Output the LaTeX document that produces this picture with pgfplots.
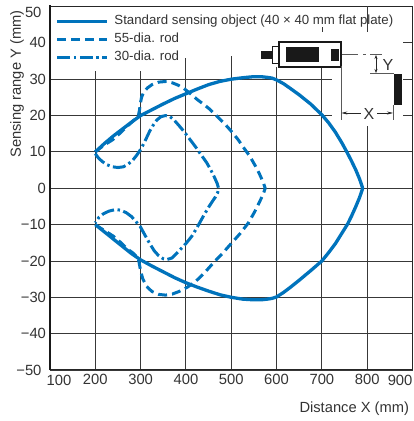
\documentclass[border=0pt]{standalone}
\usepackage{pgfplots}
\pgfplotsset{compat=1.18}
\usepackage{fontspec}
\setmainfont{Liberation Sans}
\usetikzlibrary{arrows.meta}
\definecolor{cblue}{HTML}{0073BC}
\definecolor{ctxt}{HTML}{333333}
\newcommand\px[2]{(axis cs:{100+(#1-50)/45.3*100},{(188.7-#2)/3.63})}
\newcommand\tfont{\fontsize{14.8}{14.8}\selectfont}
\begin{document}
\begin{tikzpicture}[x=1pt,y=1pt]
\path[use as bounding box] (0,0) rectangle (413,421);
\begin{axis}[
  at={(50pt,51pt)}, anchor=south west,
  scale only axis, width=362.5pt, height=363.5pt,
  xmin=100, xmax=900, ymin=-50, ymax=50,
  xtick={100,200,...,900}, ytick={-50,-40,...,50},
  xticklabels={,200,300,400,500,600,700,800,},
  yticklabels={,−40,−30,−20,−10,0,10,20,30,40,},
  tick style={draw=none},
  grid=major,
  grid style={draw=black!78,line width=0.9pt},
  axis line style={draw=black!85,line width=1pt},
  tick label style={font=\tfont,text=ctxt},
  xticklabel style={yshift=-0.5pt},
  yticklabel style={xshift=-0.5pt},
  clip=false,
  legend style={at={(axis cs:112.5,47.7)},anchor=north west,draw=none,fill=none,
    inner sep=0pt,outer sep=0pt,
    nodes={inner sep=0pt,text height=10pt,text depth=3pt,font=\fontsize{13.25}{13.25}\selectfont,text=ctxt},
    row sep=5pt,cells={anchor=west},/tikz/column 1/.style={column sep=5.5pt}},
  legend image code/.code={\draw[#1] (0pt,0pt)--(50pt,0pt);},
]
% white areas where the reference has no grid
\fill[white] \px{51}{7.4} rectangle \px{150}{72};
\fill[white] \px{150}{7.4} rectangle \px{200}{59};
\fill[white] \px{200}{7.4} rectangle \px{250}{57};
\fill[white] \px{250}{7.4} rectangle \px{403}{68};
\fill[white] \px{332}{7.4} rectangle \px{403}{127};
\draw[black!78,line width=0.9pt] \px{367.3}{7} -- \px{367.3}{33};
\draw[black!78,line width=0.9pt] \px{322}{28} -- \px{322}{33};
\addplot[color=cblue,line width=3.3pt,line join=round] coordinates {
 (200,10)(220,12.3)(240,14.4)(260,16.3)(280,18.2)(300,20)(325,21.6)(350,23.2)(375,24.7)(400,26)(425,27.3)(450,28.5)(475,29.4)(500,30)(525,30.4)(550,30.7)(565,30.7)(580,30.5)(590,30.3)(600,29.8)(615,28.8)(630,27.5)(650,25.7)(675,23.2)(700,20.2)(715,18)(730,15.4)(745,12.3)(755,10)(765,7.6)(775,5)(783,2.6)(788,0.8)(790,0)
 (788,-0.8)(783,-2.6)(775,-5)(766,-7.5)(757,-9.8)(745,-12.2)(730,-15.2)(715,-17.7)(700,-20)(675,-22.7)(650,-25.3)(630,-27.3)(615,-28.7)(600,-29.9)(590,-30.3)(580,-30.5)(565,-30.7)(550,-30.7)(525,-30.5)(500,-30)(475,-29.3)(450,-28.3)(425,-27.2)(400,-26)(375,-24.6)(350,-23)(325,-21.4)(300,-19.7)(280,-18)(260,-16)(240,-14)(220,-12)(200,-10)};
\addlegendentry{Standard sensing object (40 × 40 mm flat plate)}
\addplot[color=cblue,line width=3pt,line join=round,dash pattern=on 9pt off 5pt] coordinates {
 (200,10)(210,11)(225,12.3)(239,13.4)(255,15.2)(270,17)(285,18.7)(295,20)(297.5,21.5)(299,23)(302,25)(307,26.5)(315,27.6)(325,28.5)(340,29.2)(358,29.4)(370,29)(382,28.4)(394,27.6)(410,26)(425,24.4)(440,23)(453,21.7)(470,19.6)(485,17.8)(500,15.7)(515,13.4)(530,10.7)(541,8.8)(552,6.4)(562,4)(570,1.8)(575,0)
 (570,-1.8)(563,-3.6)(552,-6.4)(538,-9.5)(520,-12.4)(500,-15.2)(480,-18)(460,-20.6)(440,-23.4)(420,-25.8)(402,-27.3)(385,-28.4)(370,-29.1)(355,-29.4)(340,-29.2)(325,-28.4)(313,-27)(305,-25)(300,-22.8)(297.5,-21)(295,-19.4)(285,-18)(270,-16.6)(255,-14.8)(240,-13.2)(225,-12)(212,-11)(200,-10)};
\addlegendentry{55-dia. rod}
\addplot[color=cblue,line width=3pt,line join=round,dash pattern=on 13pt off 3.5pt on 2.5pt off 3.5pt] coordinates {
 (200,9.5)(207,8.3)(215,7.4)(225,6.5)(238,5.9)(250,5.7)(262,5.9)(272,6.6)(282,7.6)(292,9.2)(298,10.3)(304,11.6)(312,13.6)(320,15.7)(328,17.4)(336,18.8)(345,19.7)(355,20)(365,19.7)(375,18.6)(385,17.2)(397,15.4)(409,13.4)(420,11.6)(433,9.3)(446,7)(455,5)(463,3)(469,1.3)(472,0)
 (470,-1.2)(465,-2.4)(458,-3.7)(449,-5.4)(437,-8)(425,-10.7)(413,-13.2)(400,-15.2)(385,-17.2)(369,-19.2)(358,-19.6)(350,-19.4)(340,-18.6)(330,-17.2)(320,-15.2)(310,-13)(299,-10.5)(290,-9.2)(280,-7.8)(268,-6.7)(255,-6)(243,-5.9)(230,-6.3)(218,-7)(208,-8)(200,-9.5)};
\addlegendentry{30-dia. rod}
\draw[black!90,line width=1.8pt] \px{50}{6} -- \px{50}{370.5};
\node[font=\tfont,text=ctxt,anchor=east] at \px{45}{13} {50};
\node[font=\tfont,text=ctxt,anchor=east] at \px{45}{371} {−50};
\node[font=\tfont,text=ctxt] at \px{59}{380.5} {100};
\node[font=\tfont,text=ctxt] at \px{400}{380.5} {900};
\end{axis}
\node[font=\fontsize{14.7}{14.7}\selectfont,text=ctxt,rotate=90] at (17,337) {Sensing range Y (mm)};
\node[font=\fontsize{14.7}{14.7}\selectfont,text=ctxt,anchor=east] at (412.5,12) {Distance X (mm)};
% sensor inset
\begin{scope}[yshift=421pt,y=-1pt,x=1pt]
\fill[black!90] (261,50.7) rectangle (273,59);
\draw[black!90,fill=white,line width=1pt] (272.5,46.7) rectangle (280,63.3);
\draw[black!90,fill=white,line width=1.7pt] (279.3,42.3) rectangle (341,66.7);
\fill[black!90] (286,47) rectangle (319,62);
\fill[black!90] (331,48.7) rectangle (339.3,61);
\fill[black!90] (394.3,74) rectangle (401.7,105);
\draw[black!65,line width=0.8pt] (341.5,54.5) -- (358,54.5) (363,54.5) -- (366,54.5) (370,54.5) -- (381.7,54.5);
\draw[black!65,line width=0.8pt] (370,73) -- (394,73);
\draw[black!65,line width=0.8pt] (341,66) -- (341,120) (393.3,105) -- (393.3,120);
\draw[black!85,line width=0.7pt,{Stealth[length=4pt,width=3pt]}-{Stealth[length=4pt,width=3pt]}] (376,55) -- (376,73);
\draw[black!85,line width=0.7pt,{Stealth[length=6pt,width=3pt]}-] (341.3,113) -- (361,113);
\draw[black!85,line width=0.7pt,-{Stealth[length=6pt,width=3pt]}] (377,113) -- (393,113);
\node[font=\fontsize{16}{16}\selectfont,text=ctxt] at (388,65) {Y};
\node[font=\fontsize{16}{16}\selectfont,text=ctxt] at (369,113.5) {X};
\end{scope}
\end{tikzpicture}
\end{document}
